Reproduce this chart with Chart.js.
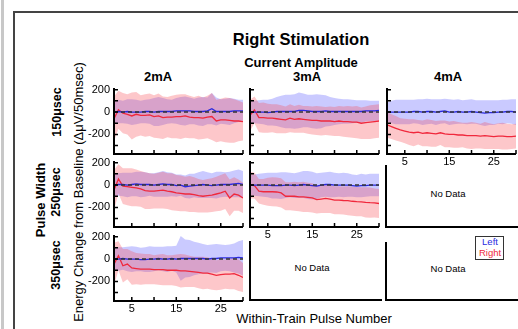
<!DOCTYPE html>
<html lang="en">
<head>
<meta charset="UTF-8">
<title>Right Stimulation</title>
<script src="https://cdn.jsdelivr.net/npm/chart.js"></script>
<style>
  body { margin: 0; background: #fff; font-family: "Liberation Sans", Arial, sans-serif; }
  #fig { position: relative; width: 518px; height: 329px; overflow: hidden; background: #fff; }
  .t { position: absolute; white-space: nowrap; color: #000; line-height: 1; transform: translate(-50%, -50%); }
  .r { transform: translate(-50%, -50%) rotate(-90deg); }
  .b { font-weight: bold; }
  canvas { position: absolute; }
  .nodata { position: absolute; border-left: 2px solid #000; border-bottom: 2px solid #000; }
</style>
</head>
<body>
<div id="fig">
  <div style="position:absolute;left:1px;top:0;width:3px;height:329px;background:#c8c8c8"></div>
  <div style="position:absolute;left:13px;top:11px;width:505px;height:2px;background:#444"></div>
  <div style="position:absolute;left:13px;top:11px;width:2px;height:318px;background:#444"></div>

  <div class="t b" style="left:301px;top:39px;font-size:16.5px">Right Stimulation</div>
  <div class="t b" style="left:301px;top:62px;font-size:13px">Current Amplitude</div>
  <div class="t b" style="left:158px;top:76px;font-size:13px">2mA</div>
  <div class="t b" style="left:307px;top:76px;font-size:13px">3mA</div>
  <div class="t b" style="left:448px;top:76px;font-size:13px">4mA</div>

  <div class="t b r" style="left:57px;top:112px;font-size:12.5px">150μsec</div>
  <div class="t b r" style="left:40px;top:200px;font-size:13px">Pulse Width</div>
  <div class="t b r" style="left:56px;top:192px;font-size:12.5px">250μsec</div>
  <div class="t b r" style="left:56px;top:265px;font-size:12.5px">350μsec</div>
  <div class="t r" style="left:78px;top:192px;font-size:13px">Energy Change from Baseline (ΔμV/50msec)</div>
  <div class="t" style="left:314px;top:318px;font-size:13px">Within-Train Pulse Number</div>

  <div class="nodata" style="left:385px;top:165px;width:140px;height:61px"></div>
  <div class="t" style="left:448px;top:194px;font-size:9.5px">No Data</div>
  <div class="nodata" style="left:249px;top:241px;width:131px;height:58px"></div>
  <div class="t" style="left:312px;top:268px;font-size:9.5px">No Data</div>
  <div class="nodata" style="left:385px;top:242px;width:140px;height:57px"></div>
  <div class="t" style="left:448px;top:269px;font-size:9.5px">No Data</div>

  <div style="position:absolute;left:475px;top:236px;width:27px;height:22px;border:1.5px solid #333;background:#fff"></div>
  <div class="t" style="left:490px;top:242px;font-size:9.5px;color:#2a2ae0">Left</div>
  <div class="t" style="left:490px;top:253px;font-size:9.5px;color:#f0283c">Right</div>
</div>

<script>
// pulse numbers along x
const pulses = [1,2,3,4,5,6,7,8,9,10,11,12,13,14,15,16,17,18,19,20,21,22,23,24,25,26,27,28,29,30];
const xTicks = [5,10,15,20,25,30];
const xTickLabels = [5,15,25];
const yTicks = [-300,-200,-100,0,100,200];
const yTickLabels = [-200,0,200];

// 150usec / 2mA
const left150_2mA  = [0,5,0,5,0,0,0,5,5,0,5,5,5,5,10,10,10,10,5,5,5,10,30,5,5,5,5,10,10,10];
const leftSd150_2mA = [100,105,100,110,115,110,100,105,110,125,130,120,110,105,115,125,130,120,115,125,130,120,140,125,110,115,120,110,100,100];
const right150_2mA = [-60,20,-10,-20,-35,-20,-30,-30,-25,-40,-35,-50,-45,-45,-40,-40,-35,-45,-50,-50,-55,-45,-40,-80,-70,-70,-75,-80,-80,-85];
const rightSd150_2mA = [200,170,180,180,210,200,180,190,190,190,200,190,180,190,195,200,195,190,185,195,185,190,210,190,190,200,200,195,180,170];

// 150usec / 3mA
const left150_3mA  = [0,0,0,0,-5,0,5,5,5,5,5,15,15,10,5,5,5,10,5,5,5,5,5,5,5,5,10,10,10,15];
const leftSd150_3mA = [100,100,105,110,115,120,130,140,150,150,155,160,150,145,150,155,150,140,130,120,115,110,110,105,100,100,95,90,90,85];
const right150_3mA = [-30,20,-50,-50,-55,-55,-60,-65,-70,-55,-65,-60,-65,-70,-75,-75,-80,-80,-80,-85,-80,-85,-85,-90,-90,-100,-95,-90,-85,-80];
const rightSd150_3mA = [140,120,130,135,130,125,130,125,120,125,120,125,120,125,125,130,130,125,130,130,135,135,140,140,145,140,145,150,150,150];

// 150usec / 4mA
const left150_4mA  = [0,0,0,0,0,0,5,5,0,5,5,0,5,10,0,0,5,0,0,5,0,-5,-10,-5,-5,0,0,5,5,0];
const leftSd150_4mA = [85,100,110,110,110,110,105,110,115,115,110,115,110,110,115,110,110,105,110,110,105,110,115,110,110,105,110,105,110,115];
const right150_4mA = [-115,-130,-145,-160,-170,-180,-185,-180,-190,-185,-190,-195,-185,-195,-200,-200,-205,-205,-210,-210,-210,-215,-210,-215,-220,-215,-215,-220,-220,-215];
const rightSd150_4mA = [115,110,110,105,110,115,120,110,115,120,120,115,110,120,115,120,115,110,115,120,115,110,120,115,110,115,120,115,110,110];

// 250usec / 2mA
const left250_2mA  = [0,5,5,0,5,10,5,5,5,0,5,10,5,5,-5,0,-15,-10,-5,0,5,0,-5,0,5,5,5,10,15,5];
const leftSd250_2mA = [100,100,105,110,105,110,115,110,100,105,110,115,110,105,100,95,100,110,105,115,120,115,110,120,115,110,115,120,125,120];
const right250_2mA = [-45,55,-10,-15,-20,-25,-35,-50,-55,-55,-50,-45,-55,-60,-70,-75,-80,-80,-85,-95,-100,-95,-90,-80,-70,-55,-115,-80,-90,-115];
const rightSd250_2mA = [180,130,160,165,170,165,160,165,160,155,160,165,160,165,160,160,155,160,155,150,145,150,150,155,160,160,165,150,140,135];

// 250usec / 3mA
const left250_3mA  = [0,0,0,0,0,-5,-5,-5,0,0,-5,0,5,0,-5,-10,0,5,5,0,0,0,0,-5,-10,-5,-5,0,0,0];
const leftSd250_3mA = [90,95,100,105,110,115,115,120,115,110,110,115,120,125,125,115,110,110,115,110,105,110,105,100,100,105,100,100,100,100];
const right250_3mA = [0,-5,-55,-60,-60,-60,-62,-70,-100,-100,-100,-105,-105,-110,-115,-130,-125,-120,-125,-135,-135,-138,-140,-145,-148,-150,-155,-158,-160,-165];
const rightSd250_3mA = [120,115,110,115,125,130,130,130,125,125,130,130,135,130,130,125,125,130,125,125,125,125,130,130,130,130,135,135,130,130];

// 350usec / 2mA
const left350_2mA  = [0,0,5,0,0,0,-5,-5,0,0,5,0,0,5,0,5,5,5,5,5,5,0,5,5,10,10,10,10,15,10];
const leftSd350_2mA = [105,105,100,110,115,110,105,110,115,110,105,110,115,110,120,200,170,165,150,140,130,125,125,130,120,115,120,130,145,160];
const right350_2mA = [-45,30,-60,-45,-80,-85,-90,-90,-90,-95,-95,-95,-100,-100,-100,-105,-105,-110,-115,-120,-125,-125,-135,-145,-140,-135,-135,-130,-145,-165];
const rightSd350_2mA = [190,130,150,135,150,140,140,135,135,130,135,140,135,135,140,150,145,140,135,140,145,140,140,135,135,130,135,140,140,130];

const BLUE = '#2a2ae0', RED = '#f0283c';
const BLUE_FILL = 'rgba(80,80,255,0.3)', RED_FILL = 'rgba(250,70,80,0.3)';

const panels = [
  { left: 114, top: 88,  l: left150_2mA, ls: leftSd150_2mA, r: right150_2mA, rs: rightSd150_2mA, yLab: true,  xLab: false },
  { left: 250, top: 88,  l: left150_3mA, ls: leftSd150_3mA, r: right150_3mA, rs: rightSd150_3mA, yLab: false, xLab: false },
  { left: 387, top: 88,  l: left150_4mA, ls: leftSd150_4mA, r: right150_4mA, rs: rightSd150_4mA, yLab: false, xLab: true },
  { left: 114, top: 161, l: left250_2mA, ls: leftSd250_2mA, r: right250_2mA, rs: rightSd250_2mA, yLab: true,  xLab: false },
  { left: 250, top: 161, l: left250_3mA, ls: leftSd250_3mA, r: right250_3mA, rs: rightSd250_3mA, yLab: false, xLab: true },
  { left: 114, top: 235, l: left350_2mA, ls: leftSd350_2mA, r: right350_2mA, rs: rightSd350_2mA, yLab: true,  xLab: true }
];
const plotW = 129, plotH = 66;

function pts(arr) { return pulses.map((p, i) => ({ x: p, y: arr[i] })); }
function band(m, s, sign) { return pulses.map((p, i) => ({ x: p, y: m[i] + sign * s[i] })); }

const axesPlugin = {
  id: 'axes',
  afterDraw(chart, args, opts) {
    const { ctx, chartArea: a, scales: { x, y } } = chart;
    ctx.save();
    ctx.strokeStyle = '#000';
    ctx.lineWidth = 2;
    ctx.beginPath();
    ctx.moveTo(a.left, a.top);
    ctx.lineTo(a.left, a.bottom);
    ctx.lineTo(a.right, a.bottom);
    ctx.stroke();
    ctx.lineWidth = 1.5;
    ctx.beginPath();
    yTicks.forEach(v => {
      const py = y.getPixelForValue(v);
      ctx.moveTo(a.left, py); ctx.lineTo(a.left + 4, py);
    });
    xTicks.forEach(v => {
      const px = x.getPixelForValue(v);
      ctx.moveTo(px, a.bottom); ctx.lineTo(px, a.bottom - 4);
    });
    ctx.stroke();
    ctx.fillStyle = '#000';
    ctx.font = '11px "Liberation Sans", Arial, sans-serif';
    if (opts.yLab) {
      ctx.textAlign = 'right'; ctx.textBaseline = 'middle';
      yTickLabels.forEach(v => ctx.fillText(String(v), a.left - 4, y.getPixelForValue(v)));
    }
    if (opts.xLab) {
      ctx.textAlign = 'center'; ctx.textBaseline = 'top';
      xTickLabels.forEach(v => ctx.fillText(String(v), x.getPixelForValue(v), a.bottom + 2));
    }
    ctx.restore();
  }
};

const fig = document.getElementById('fig');
panels.forEach(p => {
  const padL = p.yLab ? 40 : 4, padR = 4, padT = 4, padB = p.xLab ? 16 : 4;
  const cv = document.createElement('canvas');
  cv.width = plotW + padL + padR;
  cv.height = plotH + padT + padB;
  cv.style.left = (p.left - padL) + 'px';
  cv.style.top = (p.top - padT) + 'px';
  fig.appendChild(cv);

  new Chart(cv.getContext('2d'), {
    type: 'line',
    data: {
      datasets: [
        { data: [{ x: 1, y: 0 }, { x: 30, y: 0 }], borderColor: '#333', borderWidth: 1.4, borderDash: [4, 3], fill: false },
        { data: pts(p.l), borderColor: BLUE, borderWidth: 1.3, fill: false },
        { data: pts(p.r), borderColor: RED, borderWidth: 1.3, fill: false },
        { data: band(p.r, p.rs, 1), borderWidth: 0, borderColor: 'transparent', backgroundColor: RED_FILL, fill: '+1' },
        { data: band(p.r, p.rs, -1), borderWidth: 0, borderColor: 'transparent', fill: false },
        { data: band(p.l, p.ls, 1), borderWidth: 0, borderColor: 'transparent', backgroundColor: BLUE_FILL, fill: '+1' },
        { data: band(p.l, p.ls, -1), borderWidth: 0, borderColor: 'transparent', fill: false }
      ]
    },
    options: {
      responsive: false,
      animation: false,
      events: [],
      layout: { padding: { left: padL, right: padR, top: padT, bottom: padB } },
      elements: { point: { radius: 0 }, line: { tension: 0 } },
      scales: {
        x: { type: 'linear', min: 1, max: 30, display: false },
        y: { type: 'linear', min: -375, max: 215, display: false }
      },
      plugins: {
        legend: { display: false },
        tooltip: { enabled: false },
        axes: { yLab: p.yLab, xLab: p.xLab }
      }
    },
    plugins: [axesPlugin]
  });
});
</script>
</body>
</html>
